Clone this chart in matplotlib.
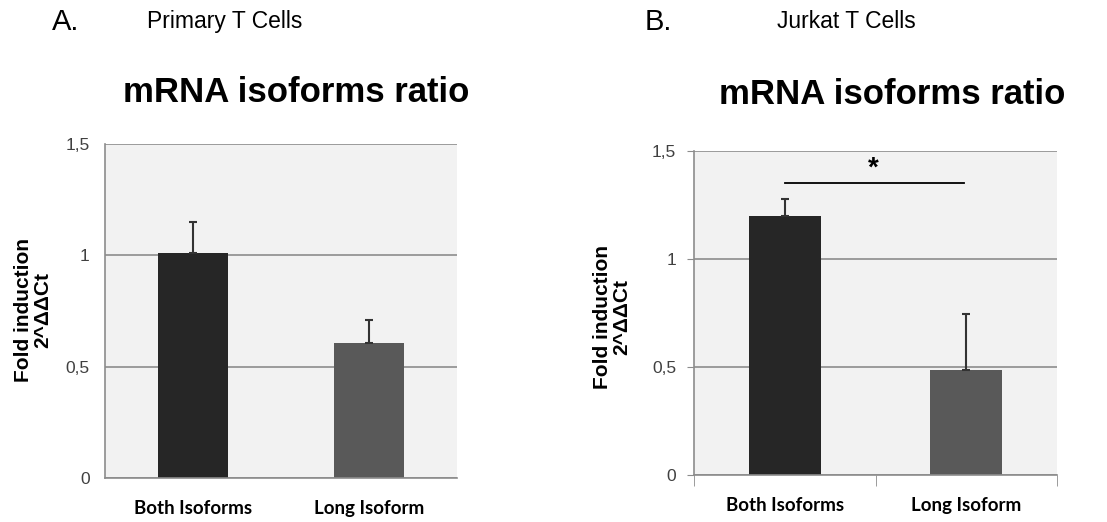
import matplotlib.pyplot as plt

categories = ['Both Isoforms', 'Long Isoform']
primary_vals = [1.01, 0.605]
primary_err = [0.14, 0.105]
jurkat_vals = [1.198, 0.486]
jurkat_err = [0.08, 0.26]
yticks = [0, 0.5, 1, 1.5]
ytick_labels = ['0', '0,5', '1', '1,5']
sig_y = 1.352
bar_colors = ['#262626', '#595959']

plt.rcParams['font.family'] = ['Liberation Sans', 'DejaVu Sans']

fig = plt.figure(figsize=(11.07, 5.22), dpi=100)
fig.patch.set_facecolor('white')


def draw_panel(ax, vals, errs, ticks_out):
    x = range(len(categories))
    ax.set_facecolor('#f2f2f2')
    ax.set_axisbelow(True)
    ax.yaxis.grid(True, color='#8c8c8c', linewidth=1.2)
    ax.bar(x, vals, width=0.4, color=bar_colors, zorder=2)
    ax.errorbar(x, vals, yerr=[[0] * len(vals), errs], fmt='none',
                ecolor='#333333', elinewidth=1.5, capsize=3.2, capthick=1.5,
                zorder=3)
    ax.set_xlim(-0.5, 1.5)
    ax.set_ylim(0, 1.5)
    ax.set_yticks(yticks)
    ax.set_yticklabels(ytick_labels, fontsize=12.5, color='#404040')
    ax.set_xticks(list(x))
    ax.set_xticklabels(categories, fontsize=13.5, fontweight='bold',
                       family=['Lato', 'DejaVu Sans'])
    for s in ['top', 'right']:
        ax.spines[s].set_visible(False)
    for s in ['left', 'bottom']:
        ax.spines[s].set_color('#8c8c8c')
        ax.spines[s].set_linewidth(1.2)
    if ticks_out:
        ax.tick_params(axis='y', length=5, color='#8c8c8c', pad=8)
        ax.set_xticks([-0.5, 0.5, 1.5], minor=True)
        ax.tick_params(axis='x', which='minor', length=8, color='#8c8c8c')
        ax.tick_params(axis='x', which='major', length=0, pad=16)
    else:
        ax.tick_params(axis='y', length=0, pad=11)
        ax.tick_params(axis='x', length=0, pad=16)


axA = fig.add_axes([0.0949, 0.0843, 0.318, 0.6398])
draw_panel(axA, primary_vals, primary_err, False)

axB = fig.add_axes([0.6272, 0.0900, 0.3274, 0.6213])
draw_panel(axB, jurkat_vals, jurkat_err, True)
axB.plot([0, 0.99], [sig_y, sig_y], color='black', linewidth=1.3)
axB.text(0.485, sig_y + 0.005, '*', ha='center', va='bottom',
         fontsize=20, fontweight='bold')

# panel labels and titles
fig.text(52 / 1107, 1 - 30 / 522, 'A.', fontsize=21, va='baseline')
fig.text(147 / 1107, 1 - 28 / 522, 'Primary T Cells', fontsize=16.5, va='baseline')
fig.text(645 / 1107, 1 - 30 / 522, 'B.', fontsize=21, va='baseline')
fig.text(777 / 1107, 1 - 28 / 522, 'Jurkat T Cells', fontsize=16.5, va='baseline')
fig.text(296 / 1107, 1 - 102 / 522, 'mRNA isoforms ratio', fontsize=25,
         fontweight='bold', ha='center', va='baseline')
fig.text(892 / 1107, 1 - 104 / 522, 'mRNA isoforms ratio', fontsize=25,
         fontweight='bold', ha='center', va='baseline')

ylab = 'Fold induction\n2^ΔΔCt'
fig.text(33 / 1107, 1 - 310 / 522, ylab, rotation=90, fontsize=15,
         fontweight='bold', ha='center', va='center', multialignment='center',
         linespacing=1.0)
fig.text(612 / 1107, 1 - 317 / 522, ylab, rotation=90, fontsize=15,
         fontweight='bold', ha='center', va='center', multialignment='center',
         linespacing=1.0)

fig.savefig('out.png', dpi=100)
